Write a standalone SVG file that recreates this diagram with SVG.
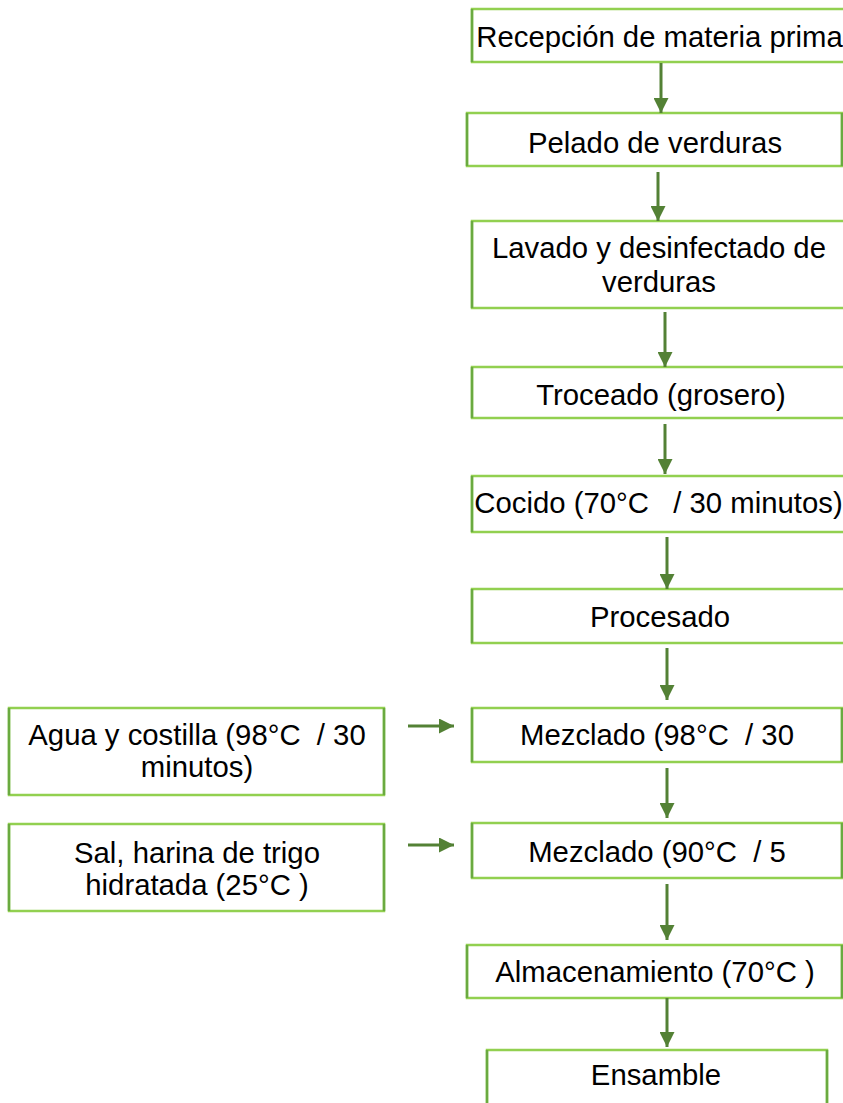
<svg xmlns="http://www.w3.org/2000/svg" width="843" height="1103" viewBox="0 0 843 1103">
  <defs>
    <style>
      .box { fill: #ffffff; stroke: #92D050; stroke-width: 2.5; }
      .side { stroke: #6AAA40; stroke-width: 2.5; fill: none; }
      .lbl { font-family: "Liberation Sans", Arial, sans-serif; font-size: 29.3px; fill: #000000; text-anchor: middle; white-space: pre; }
      .flow { stroke: #538135; stroke-width: 3; fill: none; }
    </style>
    <marker id="head" viewBox="0 0 10 10" refX="10" refY="5" markerWidth="5" markerHeight="5" orient="auto" markerUnits="strokeWidth">
      <path d="M0,0 L10,5 L0,10 Z" fill="#538135"/>
    </marker>
  </defs>
  <rect width="843" height="1103" fill="#ffffff"/>

  <!-- process steps -->
  <g id="n-recepcion">
    <rect class="box" x="472" y="9" width="380" height="53"/>
    <line class="side" x1="472" y1="9" x2="472" y2="62"/>
    <text class="lbl" x="659.5" y="47" xml:space="preserve">Recepción de materia prima</text>
  </g>
  <g id="n-pelado">
    <rect class="box" x="467" y="113" width="375" height="53"/>
    <line class="side" x1="467" y1="113" x2="467" y2="166"/>
    <line class="side" x1="842" y1="113" x2="842" y2="166"/>
    <text class="lbl" x="655" y="153">Pelado de verduras</text>
  </g>
  <g id="n-lavado">
    <rect class="box" x="472" y="221" width="378" height="87"/>
    <line class="side" x1="472" y1="221" x2="472" y2="308"/>
    <text class="lbl" x="659" y="258">Lavado y desinfectado de</text>
    <text class="lbl" x="659" y="292">verduras</text>
  </g>
  <g id="n-troceado">
    <rect class="box" x="472" y="367" width="378" height="51"/>
    <line class="side" x1="472" y1="367" x2="472" y2="418"/>
    <text class="lbl" x="661" y="405">Troceado (grosero)</text>
  </g>
  <g id="n-cocido">
    <rect class="box" x="472" y="476" width="378" height="56"/>
    <line class="side" x1="472" y1="476" x2="472" y2="532"/>
    <text class="lbl" x="658.5" y="513" xml:space="preserve">Cocido (70°C   / 30 minutos)</text>
  </g>
  <g id="n-procesado">
    <rect class="box" x="472" y="589" width="378" height="54"/>
    <line class="side" x1="472" y1="589" x2="472" y2="643"/>
    <text class="lbl" x="660" y="627">Procesado</text>
  </g>
  <g id="n-mezclado1">
    <rect class="box" x="472" y="708" width="370" height="54"/>
    <line class="side" x1="472" y1="708" x2="472" y2="762"/>
    <line class="side" x1="842" y1="708" x2="842" y2="762"/>
    <text class="lbl" x="657" y="745" xml:space="preserve">Mezclado (98°C  / 30</text>
  </g>
  <g id="n-mezclado2">
    <rect class="box" x="472" y="823" width="370" height="55"/>
    <line class="side" x1="472" y1="823" x2="472" y2="878"/>
    <line class="side" x1="842" y1="823" x2="842" y2="878"/>
    <text class="lbl" x="657" y="862" xml:space="preserve">Mezclado (90°C  / 5</text>
  </g>
  <g id="n-almacenamiento">
    <rect class="box" x="467" y="945" width="375" height="53"/>
    <line class="side" x1="467" y1="945" x2="467" y2="998"/>
    <line class="side" x1="842" y1="945" x2="842" y2="998"/>
    <text class="lbl" x="655" y="982" xml:space="preserve">Almacenamiento (70°C )</text>
  </g>
  <g id="n-ensamble">
    <rect class="box" x="487" y="1050" width="340" height="70"/>
    <line class="side" x1="487" y1="1050" x2="487" y2="1120"/>
    <line class="side" x1="827" y1="1050" x2="827" y2="1120"/>
    <text class="lbl" x="656" y="1085">Ensamble</text>
  </g>

  <!-- inputs -->
  <g id="n-agua">
    <rect class="box" x="9" y="708" width="375" height="87"/>
    <line class="side" x1="9" y1="708" x2="9" y2="795"/>
    <line class="side" x1="384" y1="708" x2="384" y2="795"/>
    <text class="lbl" x="197" y="745" xml:space="preserve">Agua y costilla (98°C  / 30</text>
    <text class="lbl" x="197" y="777">minutos)</text>
  </g>
  <g id="n-sal">
    <rect class="box" x="9" y="824" width="375" height="87"/>
    <line class="side" x1="9" y1="824" x2="9" y2="911"/>
    <line class="side" x1="384" y1="824" x2="384" y2="911"/>
    <text class="lbl" x="197" y="863">Sal, harina de trigo</text>
    <text class="lbl" x="197" y="895" xml:space="preserve">hidratada (25°C )</text>
  </g>

  <!-- connectors -->
  <g id="connectors">
    <line class="flow" x1="661" y1="63" x2="661" y2="113" marker-end="url(#head)"/>
    <line class="flow" x1="658" y1="172" x2="658" y2="221" marker-end="url(#head)"/>
    <line class="flow" x1="665" y1="312" x2="665" y2="367" marker-end="url(#head)"/>
    <line class="flow" x1="665" y1="424" x2="665" y2="474" marker-end="url(#head)"/>
    <line class="flow" x1="667" y1="537" x2="667" y2="589" marker-end="url(#head)"/>
    <line class="flow" x1="667" y1="648" x2="667" y2="700" marker-end="url(#head)"/>
    <line class="flow" x1="667" y1="768" x2="667" y2="818" marker-end="url(#head)"/>
    <line class="flow" x1="667" y1="884" x2="667" y2="940" marker-end="url(#head)"/>
    <line class="flow" x1="667" y1="998" x2="667" y2="1047" marker-end="url(#head)"/>
    <line class="flow" x1="408" y1="726" x2="454" y2="726" marker-end="url(#head)"/>
    <line class="flow" x1="408" y1="845" x2="454" y2="845" marker-end="url(#head)"/>
  </g>
</svg>
